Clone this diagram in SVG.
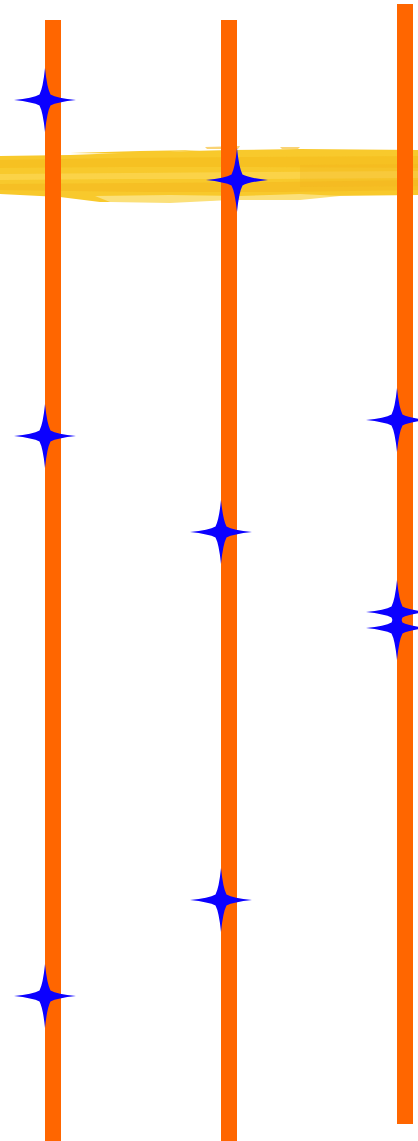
<svg xmlns="http://www.w3.org/2000/svg" width="418" height="1141" viewBox="0 0 418 1141">
<style>
.bar{fill:#ff6600}
.star{fill:#0b00ff}
</style>
<defs>
<path id="st" d="M0,-32 Q2,-12 5.5,-5.5 Q12,-2 31,0 Q12,2 5.5,5.5 Q2,12 0,32 Q-2,12 -5.5,5.5 Q-12,2 -31,0 Q-12,-2 -5.5,-5.5 Q-2,-12 0,-32 Z"/>
</defs>
<rect width="418" height="1141" fill="#ffffff"/>
<g id="highlight">
<path d="M0,156 L70,155 L150,152 L230,150 L300,149 L418,150 L418,195 L330,196 L240,199 L170,202 L100,202 L60,197 L0,194 Z" fill="#f8c92c"/>
<path d="M0,160 L120,158 L240,157 L418,156 L418,168 L240,167 L120,167 L0,168 Z" fill="#f5bd1c" opacity="0.6"/>
<path d="M0,174 L130,173 L260,172 L418,171 L418,178 L260,179 L130,179 L0,180 Z" fill="#fbd650" opacity="0.8"/>
<path d="M0,184 L150,183 L280,182 L418,180 L418,190 L280,192 L150,192 L0,190 Z" fill="#f3b51c" opacity="0.5"/>
<path d="M95,196 L170,195 L240,196 L300,194 L340,196 L300,200 L230,200 L170,203 L110,202 Z" fill="#fbe07a"/>
<path d="M70,153 L140,151 L200,150 L140,154 Z" fill="#f8c92c"/>
<path d="M205,147 L240,146 L238,149 L207,149 Z" fill="#f6c13a" opacity="0.7"/>
<path d="M280,147 L300,147 L298,149 L282,149 Z" fill="#f6c13a" opacity="0.7"/>
<path d="M300,165 L418,164 L418,186 L300,187 Z" fill="#f2b41e" opacity="0.3"/>
</g>
<g id="bar-1"><rect class="bar" x="45" y="20" width="16" height="1121"/></g>
<g id="bar-2"><rect class="bar" x="221" y="20" width="16" height="1121"/></g>
<g id="bar-3"><rect class="bar" x="397" y="4" width="16" height="1120"/></g>
<g id="connectors"></g>
<g id="star-1"><use href="#st" class="star" x="45" y="100"/></g>
<g id="star-2"><use href="#st" class="star" x="237" y="180"/></g>
<g id="star-3"><use href="#st" class="star" x="45" y="436"/></g>
<g id="star-4"><use href="#st" class="star" x="397" y="420"/></g>
<g id="star-5"><use href="#st" class="star" x="221" y="532"/></g>
<g id="star-6"><use href="#st" class="star" x="397" y="612"/></g>
<g id="star-7"><use href="#st" class="star" x="397" y="628"/></g>
<g id="star-8"><use href="#st" class="star" x="221" y="900"/></g>
<g id="star-9"><use href="#st" class="star" x="45" y="996"/></g>
</svg>
